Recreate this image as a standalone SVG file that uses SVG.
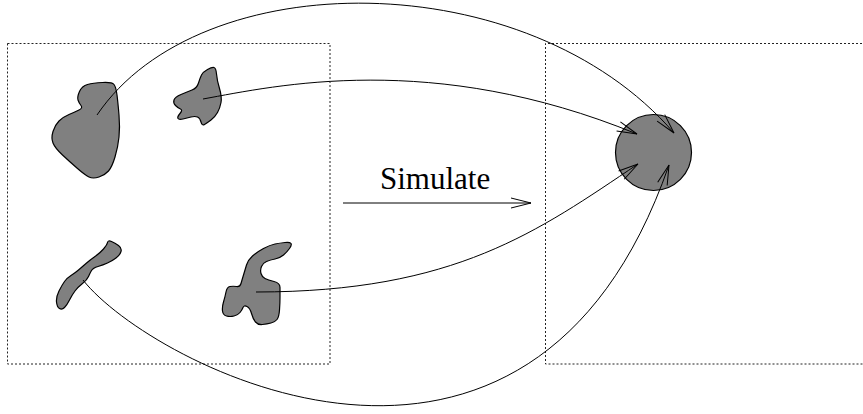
<svg xmlns="http://www.w3.org/2000/svg" width="863" height="414" viewBox="0 0 863 414">
<style>
.box{fill:none;stroke:#222;stroke-width:1;stroke-dasharray:2 2}
.blob{fill:#808080;stroke:#000;stroke-width:1.2;stroke-linejoin:round}
.conn{fill:none;stroke:#000;stroke-width:1}
.lbl{font-family:"Liberation Serif","Times New Roman",serif;font-size:31px;fill:#000}
</style>
<defs>
<marker id="ah" viewBox="-22 -7 24 14" refX="0" refY="0" markerWidth="24" markerHeight="14" orient="auto" markerUnits="userSpaceOnUse" overflow="visible">
<path d="M-20,-5 L0,0 L-20,5" fill="none" stroke="#000" stroke-width="1"/>
</marker>
</defs>
<rect width="863" height="414" fill="#fff"/>
<g id="box-left"><rect class="box" x="7.5" y="43.5" width="322.5" height="320.5"/></g>
<g id="box-right"><path class="box" d="M870,43.5 H545.5 V364 H870"/></g>
<g id="blob-big"><path class="blob" d="M87.5,84.5 Q93,83 102.5,82.5 Q112,82 114,84.5 Q116,87 117,95 Q118,103 119,115 Q120,127 119,137 Q118,147 115,157 Q112,167 108.5,171 Q105,175 99,177 Q93,179 89,177 Q85,175 77.5,168.5 Q70,162 62.5,155 Q55,148 53,143 Q51,138 53,131.5 Q55,125 59,121 Q63,117 69,114.5 Q75,112 79,110 Q83,108 81,105.5 Q79,103 78,100 Q77,97 79.5,91.5 Q82,86 87.5,84.5 Z"/></g>
<g id="blob-small"><path class="blob" d="M207.5,69.5 Q212,67 214,67.5 Q216,68 216.5,74 Q217,80 219.5,88.5 Q222,97 221,102.5 Q220,108 217.5,112.5 Q215,117 211,120 Q207,123 204.5,124.5 Q202,126 201,122 Q200,118 197.5,117 Q195,116 191,117 Q187,118 183,119 Q179,120 178,118.5 Q177,117 180,113.5 Q183,110 180.5,109 Q178,108 175.5,105.5 Q173,103 174,100 Q175,97 181,94.5 Q187,92 192,90 Q197,88 198.5,83 Q200,78 201.5,75 Q203,72 207.5,69.5 Z"/></g>
<g id="blob-thin"><path class="blob" d="M111.5,241.5 Q115,243 118.5,245.5 Q122,248 121,251.5 Q120,255 116,258 Q112,261 107.5,263 Q103,265 98,266.5 Q93,268 91.5,270.5 Q90,273 88.5,276.5 Q87,280 82.5,283.5 Q78,287 75,291 Q72,295 69.5,300 Q67,305 64.5,307.5 Q62,310 59.5,308.5 Q57,307 56.5,302 Q56,297 59,291 Q62,285 64.5,281.5 Q67,278 71,275.5 Q75,273 78.5,270 Q82,267 86,263.5 Q90,260 95,256.5 Q100,253 103.5,249 Q107,245 107.5,242.5 Q108,240 111.5,241.5 Z"/></g>
<g id="blob-hook"><path class="blob" d="M291,243.5 Q292,245 289.5,248.5 Q287,252 283.5,255 Q280,258 275,259 Q270,260 266.5,261.5 Q263,263 261.5,266.5 Q260,270 261,273.5 Q262,277 265,278.5 Q268,280 274,281.5 Q280,283 280,287.5 Q280,292 280,297.5 Q280,303 279.5,310 Q279,317 277,319.5 Q275,322 271,323 Q267,324 262.5,324.5 Q258,325 255.5,322 Q253,319 251.5,313.5 Q250,308 247,306.5 Q244,305 243,307.5 Q242,310 240,312.5 Q238,315 234,316 Q230,317 226.5,316 Q223,315 222.5,311 Q222,307 223.5,302 Q225,297 226,292 Q227,287 230,286.5 Q233,286 236.5,286.5 Q240,287 241,283.5 Q242,280 243.5,275 Q245,270 246.5,265 Q248,260 252.5,256 Q257,252 263.5,248.5 Q270,245 275,244 Q280,243 285,242.5 Q290,242 291,243.5 Z"/></g>
<g id="target"><circle cx="653.5" cy="152.5" r="38" fill="#808080" stroke="#000" stroke-width="1.2"/></g>
<g id="label"><text class="lbl" x="380" y="189">Simulate</text></g>
<g id="connectors">
<path class="conn" d="M97,115 C200,-37 527,-37 674,133" marker-end="url(#ah)"/>
<path class="conn" d="M203,99 C275,86 432,50 637,134" marker-end="url(#ah)"/>
<path class="conn" d="M256,292 C456,292 538,231 638,164" marker-end="url(#ah)"/>
<path class="conn" d="M83,280 C150,365 530,565 669,165" marker-end="url(#ah)"/>
<path class="conn" d="M343,203 H531" marker-end="url(#ah)"/>
</g>
</svg>
